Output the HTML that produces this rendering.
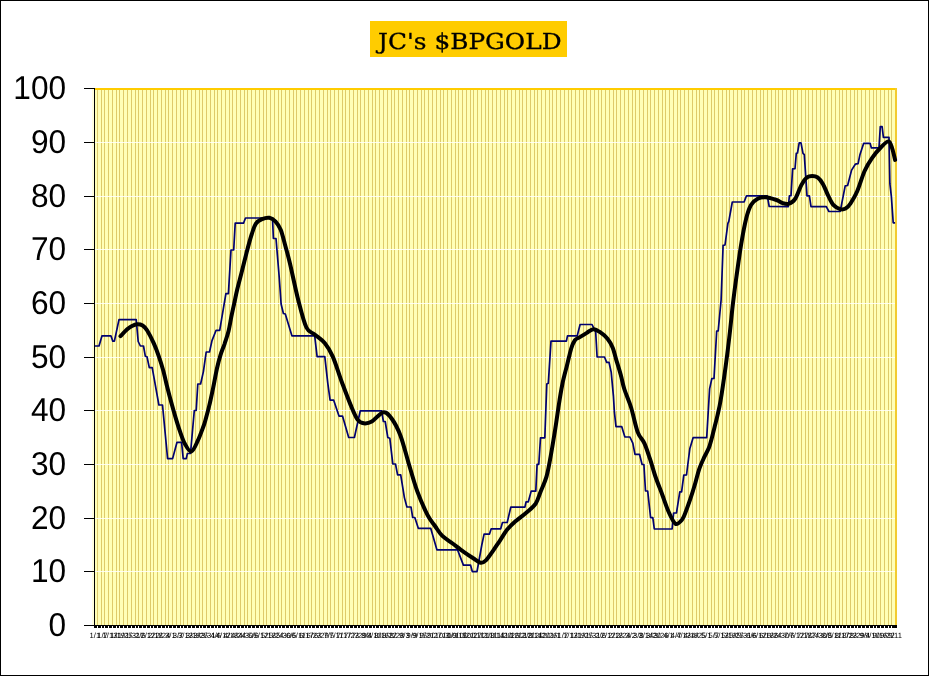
<!DOCTYPE html>
<html lang="en"><head><meta charset="utf-8"><title>JC's $BPGOLD</title>
<style>
html,body{margin:0;padding:0;background:#fff;}
body{width:929px;height:676px;overflow:hidden;}
svg{display:block;}
text{text-rendering:geometricPrecision;}
.gt{filter:grayscale(1);}
.yl{font-family:"Liberation Sans",Arial,sans-serif;font-size:33px;fill:#000;text-anchor:end;}
.xl{font-family:"Liberation Sans",Arial,sans-serif;font-size:7.6px;fill:#000;text-anchor:middle;}
.tt{font-family:"DejaVu Serif","Liberation Serif",serif;font-size:22px;fill:#000;text-anchor:middle;}
</style></head><body>
<svg width="929" height="676" viewBox="0 0 929 676">
<rect x="0" y="0" width="929" height="676" fill="#fff"/>
<rect x="0.5" y="0.5" width="928" height="675" fill="none" stroke="#000" stroke-width="1"/>
<rect x="370" y="21" width="197" height="36" fill="#FFCC00"/>
<rect x="92" y="88" width="2" height="538" fill="#FFFFE0"/>
<rect x="94" y="88" width="803" height="538" fill="#FFFFB6"/>
<g fill="#DECA6A" shape-rendering="crispEdges"><rect x="97" y="90" width="1" height="536"/><rect x="101" y="90" width="1" height="536"/><rect x="104" y="90" width="1" height="536"/><rect x="108" y="90" width="1" height="536"/><rect x="112" y="90" width="1" height="536"/><rect x="116" y="90" width="1" height="536"/><rect x="119" y="90" width="1" height="536"/><rect x="123" y="90" width="1" height="536"/><rect x="127" y="90" width="1" height="536"/><rect x="131" y="90" width="1" height="536"/><rect x="135" y="90" width="1" height="536"/><rect x="138" y="90" width="1" height="536"/><rect x="142" y="90" width="1" height="536"/><rect x="146" y="90" width="1" height="536"/><rect x="150" y="90" width="1" height="536"/><rect x="153" y="90" width="1" height="536"/><rect x="157" y="90" width="1" height="536"/><rect x="161" y="90" width="1" height="536"/><rect x="165" y="90" width="1" height="536"/><rect x="168" y="90" width="1" height="536"/><rect x="172" y="90" width="1" height="536"/><rect x="176" y="90" width="1" height="536"/><rect x="180" y="90" width="1" height="536"/><rect x="183" y="90" width="1" height="536"/><rect x="187" y="90" width="1" height="536"/><rect x="191" y="90" width="1" height="536"/><rect x="195" y="90" width="1" height="536"/><rect x="199" y="90" width="1" height="536"/><rect x="202" y="90" width="1" height="536"/><rect x="206" y="90" width="1" height="536"/><rect x="210" y="90" width="1" height="536"/><rect x="214" y="90" width="1" height="536"/><rect x="217" y="90" width="1" height="536"/><rect x="221" y="90" width="1" height="536"/><rect x="225" y="90" width="1" height="536"/><rect x="229" y="90" width="1" height="536"/><rect x="232" y="90" width="1" height="536"/><rect x="236" y="90" width="1" height="536"/><rect x="240" y="90" width="1" height="536"/><rect x="244" y="90" width="1" height="536"/><rect x="247" y="90" width="1" height="536"/><rect x="251" y="90" width="1" height="536"/><rect x="255" y="90" width="1" height="536"/><rect x="259" y="90" width="1" height="536"/><rect x="263" y="90" width="1" height="536"/><rect x="266" y="90" width="1" height="536"/><rect x="270" y="90" width="1" height="536"/><rect x="274" y="90" width="1" height="536"/><rect x="278" y="90" width="1" height="536"/><rect x="281" y="90" width="1" height="536"/><rect x="285" y="90" width="1" height="536"/><rect x="289" y="90" width="1" height="536"/><rect x="293" y="90" width="1" height="536"/><rect x="296" y="90" width="1" height="536"/><rect x="300" y="90" width="1" height="536"/><rect x="304" y="90" width="1" height="536"/><rect x="308" y="90" width="1" height="536"/><rect x="311" y="90" width="1" height="536"/><rect x="315" y="90" width="1" height="536"/><rect x="319" y="90" width="1" height="536"/><rect x="323" y="90" width="1" height="536"/><rect x="327" y="90" width="1" height="536"/><rect x="330" y="90" width="1" height="536"/><rect x="334" y="90" width="1" height="536"/><rect x="338" y="90" width="1" height="536"/><rect x="342" y="90" width="1" height="536"/><rect x="345" y="90" width="1" height="536"/><rect x="349" y="90" width="1" height="536"/><rect x="353" y="90" width="1" height="536"/><rect x="357" y="90" width="1" height="536"/><rect x="360" y="90" width="1" height="536"/><rect x="364" y="90" width="1" height="536"/><rect x="368" y="90" width="1" height="536"/><rect x="372" y="90" width="1" height="536"/><rect x="375" y="90" width="1" height="536"/><rect x="379" y="90" width="1" height="536"/><rect x="383" y="90" width="1" height="536"/><rect x="387" y="90" width="1" height="536"/><rect x="391" y="90" width="1" height="536"/><rect x="394" y="90" width="1" height="536"/><rect x="398" y="90" width="1" height="536"/><rect x="402" y="90" width="1" height="536"/><rect x="406" y="90" width="1" height="536"/><rect x="409" y="90" width="1" height="536"/><rect x="413" y="90" width="1" height="536"/><rect x="417" y="90" width="1" height="536"/><rect x="421" y="90" width="1" height="536"/><rect x="424" y="90" width="1" height="536"/><rect x="428" y="90" width="1" height="536"/><rect x="432" y="90" width="1" height="536"/><rect x="436" y="90" width="1" height="536"/><rect x="440" y="90" width="1" height="536"/><rect x="443" y="90" width="1" height="536"/><rect x="447" y="90" width="1" height="536"/><rect x="451" y="90" width="1" height="536"/><rect x="455" y="90" width="1" height="536"/><rect x="458" y="90" width="1" height="536"/><rect x="462" y="90" width="1" height="536"/><rect x="466" y="90" width="1" height="536"/><rect x="470" y="90" width="1" height="536"/><rect x="473" y="90" width="1" height="536"/><rect x="477" y="90" width="1" height="536"/><rect x="481" y="90" width="1" height="536"/><rect x="485" y="90" width="1" height="536"/><rect x="488" y="90" width="1" height="536"/><rect x="492" y="90" width="1" height="536"/><rect x="496" y="90" width="1" height="536"/><rect x="500" y="90" width="1" height="536"/><rect x="504" y="90" width="1" height="536"/><rect x="507" y="90" width="1" height="536"/><rect x="511" y="90" width="1" height="536"/><rect x="515" y="90" width="1" height="536"/><rect x="519" y="90" width="1" height="536"/><rect x="522" y="90" width="1" height="536"/><rect x="526" y="90" width="1" height="536"/><rect x="530" y="90" width="1" height="536"/><rect x="534" y="90" width="1" height="536"/><rect x="537" y="90" width="1" height="536"/><rect x="541" y="90" width="1" height="536"/><rect x="545" y="90" width="1" height="536"/><rect x="549" y="90" width="1" height="536"/><rect x="552" y="90" width="1" height="536"/><rect x="556" y="90" width="1" height="536"/><rect x="560" y="90" width="1" height="536"/><rect x="564" y="90" width="1" height="536"/><rect x="568" y="90" width="1" height="536"/><rect x="571" y="90" width="1" height="536"/><rect x="575" y="90" width="1" height="536"/><rect x="579" y="90" width="1" height="536"/><rect x="583" y="90" width="1" height="536"/><rect x="586" y="90" width="1" height="536"/><rect x="590" y="90" width="1" height="536"/><rect x="594" y="90" width="1" height="536"/><rect x="598" y="90" width="1" height="536"/><rect x="601" y="90" width="1" height="536"/><rect x="605" y="90" width="1" height="536"/><rect x="609" y="90" width="1" height="536"/><rect x="613" y="90" width="1" height="536"/><rect x="616" y="90" width="1" height="536"/><rect x="620" y="90" width="1" height="536"/><rect x="624" y="90" width="1" height="536"/><rect x="628" y="90" width="1" height="536"/><rect x="632" y="90" width="1" height="536"/><rect x="635" y="90" width="1" height="536"/><rect x="639" y="90" width="1" height="536"/><rect x="643" y="90" width="1" height="536"/><rect x="647" y="90" width="1" height="536"/><rect x="650" y="90" width="1" height="536"/><rect x="654" y="90" width="1" height="536"/><rect x="658" y="90" width="1" height="536"/><rect x="662" y="90" width="1" height="536"/><rect x="665" y="90" width="1" height="536"/><rect x="669" y="90" width="1" height="536"/><rect x="673" y="90" width="1" height="536"/><rect x="677" y="90" width="1" height="536"/><rect x="680" y="90" width="1" height="536"/><rect x="684" y="90" width="1" height="536"/><rect x="688" y="90" width="1" height="536"/><rect x="692" y="90" width="1" height="536"/><rect x="696" y="90" width="1" height="536"/><rect x="699" y="90" width="1" height="536"/><rect x="703" y="90" width="1" height="536"/><rect x="707" y="90" width="1" height="536"/><rect x="711" y="90" width="1" height="536"/><rect x="714" y="90" width="1" height="536"/><rect x="718" y="90" width="1" height="536"/><rect x="722" y="90" width="1" height="536"/><rect x="726" y="90" width="1" height="536"/><rect x="729" y="90" width="1" height="536"/><rect x="733" y="90" width="1" height="536"/><rect x="737" y="90" width="1" height="536"/><rect x="741" y="90" width="1" height="536"/><rect x="744" y="90" width="1" height="536"/><rect x="748" y="90" width="1" height="536"/><rect x="752" y="90" width="1" height="536"/><rect x="756" y="90" width="1" height="536"/><rect x="760" y="90" width="1" height="536"/><rect x="763" y="90" width="1" height="536"/><rect x="767" y="90" width="1" height="536"/><rect x="771" y="90" width="1" height="536"/><rect x="775" y="90" width="1" height="536"/><rect x="778" y="90" width="1" height="536"/><rect x="782" y="90" width="1" height="536"/><rect x="786" y="90" width="1" height="536"/><rect x="790" y="90" width="1" height="536"/><rect x="793" y="90" width="1" height="536"/><rect x="797" y="90" width="1" height="536"/><rect x="801" y="90" width="1" height="536"/><rect x="805" y="90" width="1" height="536"/><rect x="808" y="90" width="1" height="536"/><rect x="812" y="90" width="1" height="536"/><rect x="816" y="90" width="1" height="536"/><rect x="820" y="90" width="1" height="536"/><rect x="824" y="90" width="1" height="536"/><rect x="827" y="90" width="1" height="536"/><rect x="831" y="90" width="1" height="536"/><rect x="835" y="90" width="1" height="536"/><rect x="839" y="90" width="1" height="536"/><rect x="842" y="90" width="1" height="536"/><rect x="846" y="90" width="1" height="536"/><rect x="850" y="90" width="1" height="536"/><rect x="854" y="90" width="1" height="536"/><rect x="857" y="90" width="1" height="536"/><rect x="861" y="90" width="1" height="536"/><rect x="865" y="90" width="1" height="536"/><rect x="869" y="90" width="1" height="536"/><rect x="873" y="90" width="1" height="536"/><rect x="876" y="90" width="1" height="536"/><rect x="880" y="90" width="1" height="536"/><rect x="884" y="90" width="1" height="536"/><rect x="888" y="90" width="1" height="536"/><rect x="891" y="90" width="1" height="536"/></g>
<g fill="#fff" fill-opacity="0.85" shape-rendering="crispEdges"><rect x="95" y="571" width="801" height="1"/><rect x="95" y="518" width="801" height="1"/><rect x="95" y="464" width="801" height="1"/><rect x="95" y="410" width="801" height="1"/><rect x="95" y="357" width="801" height="1"/><rect x="95" y="303" width="801" height="1"/><rect x="95" y="249" width="801" height="1"/><rect x="95" y="196" width="801" height="1"/><rect x="95" y="142" width="801" height="1"/></g>
<g fill="#FFCC00" shape-rendering="crispEdges"><rect x="95" y="88" width="802" height="2"/></g><rect x="895" y="88" width="2" height="538" fill="#F2CB30" shape-rendering="crispEdges"/>
<polyline points="94.5,346.0 99.0,346.0 102.0,335.8 110.9,335.8 112.8,341.1 114.4,341.1 119.0,319.6 136.2,319.6 138.2,341.5 140.4,346.0 143.5,346.0 145.3,356.2 147.0,356.8 149.3,367.6 152.2,367.6 158.9,405.0 162.5,405.0 167.6,458.6 172.6,458.6 177.0,442.3 181.6,442.3 183.2,458.6 186.3,458.6 187.4,453.5 190.5,453.5 194.3,410.5 196.2,410.5 197.8,384.0 200.6,384.0 203.4,371.6 206.2,352.0 209.5,352.0 212.0,340.6 216.1,330.3 219.7,330.3 225.9,293.6 228.4,293.6 231.0,250.0 233.7,250.0 235.2,223.2 243.5,223.2 245.5,218.0 272.5,218.0 273.4,238.5 276.0,238.5 279.2,277.0 281.1,304.0 283.4,313.5 285.3,314.0 290.3,330.6 291.9,335.8 314.7,335.8 317.1,356.6 324.8,356.6 327.8,383.3 330.1,400.2 333.7,400.2 337.2,410.8 339.0,416.1 342.5,416.1 348.7,437.5 354.4,437.5 360.3,410.8 381.6,410.8 383.4,421.5 385.2,421.5 387.8,437.5 389.8,438.2 392.8,463.8 395.5,464.0 397.6,474.9 400.7,474.9 404.4,497.6 406.9,507.0 411.0,507.0 412.7,517.5 414.8,517.5 418.3,528.3 430.7,528.3 436.9,549.8 457.5,549.8 463.4,565.1 470.5,565.1 472.3,571.6 477.0,571.6 481.8,545.0 484.1,534.1 489.5,534.1 491.2,528.8 500.7,528.8 502.5,522.5 507.2,522.5 510.8,507.1 524.9,507.1 526.1,501.8 528.3,501.8 531.2,491.1 535.8,491.1 537.1,464.3 538.8,464.3 540.5,437.8 544.8,437.8 546.8,384.0 548.3,383.2 551.0,341.1 566.4,341.1 567.5,335.9 577.2,335.9 580.1,324.5 592.0,324.5 595.7,332.2 597.1,357.0 604.5,357.0 606.7,362.3 609.0,362.3 611.2,372.1 613.4,395.8 614.4,412.2 616.0,426.6 621.7,426.6 624.8,436.8 629.9,437.0 632.8,443.2 635.0,454.3 639.5,454.3 642.1,464.5 643.9,464.5 645.5,491.0 647.7,491.0 650.6,517.7 652.8,517.7 654.3,529.0 672.1,529.0 673.6,513.0 676.5,512.8 679.8,491.8 681.6,491.8 683.8,475.2 686.5,475.0 689.8,448.8 693.1,437.7 706.7,437.7 709.6,388.9 711.8,378.7 714.0,378.5 716.7,331.0 718.2,330.8 721.1,300.0 723.1,245.4 725.0,245.0 727.9,223.3 728.8,221.3 732.3,202.0 744.2,201.8 746.5,195.8 767.3,195.8 769.2,206.5 788.3,206.6 789.4,195.9 791.0,195.7 792.6,168.9 795.0,168.7 796.3,153.3 797.5,153.0 799.2,142.9 801.0,142.9 803.0,153.3 804.3,154.6 807.0,195.9 809.4,195.9 811.0,206.6 826.3,206.6 828.9,211.5 840.2,211.4 845.2,185.8 847.6,185.5 851.6,170.1 855.3,164.2 858.1,163.7 860.0,154.4 863.7,143.3 870.1,143.3 871.4,147.9 879.0,147.9 880.3,126.6 882.1,126.6 883.4,137.4 889.0,137.4 889.9,183.9 891.4,196.9 893.2,222.8 895.1,222.8" fill="none" stroke="#000070" stroke-width="1.7" stroke-linejoin="round"/>
<path d="M120.5,336.2C121.7,335.0 125.6,330.8 127.5,329.1C129.4,327.4 130.4,326.8 132.0,326.0C133.6,325.2 135.5,324.4 137.3,324.3C139.1,324.2 140.9,324.5 142.6,325.5C144.2,326.5 145.4,327.6 147.2,330.5C149.0,333.4 151.6,338.5 153.6,342.9C155.6,347.3 157.4,352.1 159.0,356.8C160.6,361.5 162.0,366.0 163.3,370.8C164.6,375.6 165.7,380.8 166.9,385.8C168.2,390.8 169.4,395.6 170.8,400.6C172.2,405.6 173.6,410.8 175.1,415.9C176.6,420.9 178.2,426.3 179.8,430.9C181.4,435.5 182.8,440.1 184.7,443.5C186.6,446.9 189.1,452.0 191.3,451.5C193.5,451.0 195.8,444.9 197.8,440.7C199.8,436.5 202.1,430.0 203.4,426.5C204.7,423.0 204.6,423.0 205.6,419.5C206.6,416.0 208.1,410.6 209.3,405.4C210.6,400.2 211.8,394.2 213.1,388.1C214.4,382.0 215.7,374.2 216.9,368.8C218.1,363.4 219.1,359.6 220.4,355.4C221.7,351.2 223.2,347.8 224.6,343.8C225.9,339.8 227.4,335.8 228.5,331.3C229.6,326.8 230.4,321.5 231.3,316.9C232.2,312.3 233.2,308.0 234.2,303.5C235.2,299.0 235.9,295.0 237.1,290.0C238.3,285.0 239.8,279.5 241.4,273.3C243.0,267.1 244.9,259.1 246.6,252.6C248.3,246.0 250.2,238.8 251.8,234.0C253.4,229.2 254.2,226.1 255.9,223.6C257.6,221.1 259.9,220.1 262.1,219.1C264.4,218.1 267.1,217.4 269.4,217.8C271.6,218.2 273.7,219.6 275.6,221.6C277.5,223.6 279.1,226.0 280.7,229.8C282.2,233.6 283.4,238.7 284.9,244.3C286.4,249.9 287.7,254.0 289.9,263.2C292.1,272.4 295.4,288.8 298.1,299.5C300.9,310.2 303.6,321.7 306.4,327.5C309.2,333.3 311.6,331.9 314.7,334.5C317.8,337.1 321.9,339.5 324.9,343.2C327.9,346.9 330.0,350.2 332.8,356.6C335.6,363.0 338.7,373.5 341.6,381.5C344.6,389.5 347.8,398.2 350.5,404.6C353.2,411.0 355.4,416.6 357.6,419.7C359.8,422.8 361.4,423.0 363.8,423.3C366.2,423.6 368.5,423.4 371.8,421.5C375.1,419.6 380.1,412.7 383.4,412.2C386.7,411.7 388.8,414.6 391.6,418.5C394.5,422.4 397.6,428.0 400.5,435.7C403.4,443.4 406.2,455.2 409.0,464.5C411.8,473.8 414.2,482.9 417.3,491.4C420.4,499.8 424.7,509.4 427.6,515.2C430.6,521.0 432.6,522.6 435.0,526.0C437.4,529.4 439.2,532.8 442.1,535.7C445.0,538.6 449.0,540.8 452.6,543.5C456.2,546.2 460.3,549.4 463.7,551.8C467.1,554.2 470.1,556.2 472.9,558.0C475.7,559.8 478.4,562.4 480.6,562.8C482.8,563.2 483.8,562.4 485.9,560.4C488.0,558.4 490.6,554.2 493.0,550.9C495.4,547.5 497.7,543.8 500.1,540.3C502.5,536.8 504.6,532.8 507.2,529.6C509.8,526.4 512.1,524.3 515.5,521.3C518.9,518.3 524.0,514.8 527.4,511.8C530.8,508.9 533.5,506.9 535.7,503.6C537.9,500.3 538.7,496.4 540.5,491.9C542.3,487.4 544.8,482.6 546.5,476.6C548.2,470.7 549.3,463.9 550.7,456.2C552.1,448.5 553.6,439.1 555.0,430.6C556.4,422.1 557.6,412.8 558.8,405.0C560.0,397.2 561.1,390.5 562.4,384.0C563.7,377.5 565.3,372.1 566.8,366.2C568.3,360.3 569.9,352.8 571.2,348.5C572.6,344.2 573.5,342.2 574.9,340.3C576.3,338.4 577.4,338.6 579.4,337.4C581.4,336.2 584.5,334.3 586.8,332.9C589.1,331.5 591.2,329.3 593.4,329.2C595.6,329.1 597.8,330.6 600.1,332.2C602.5,333.8 605.4,336.2 607.5,338.8C609.6,341.4 611.2,344.1 612.7,347.7C614.2,351.3 615.0,355.7 616.4,360.3C617.8,364.9 619.5,370.3 620.8,375.1C622.1,379.9 622.6,383.6 624.3,389.0C626.0,394.4 628.9,400.3 631.1,407.5C633.3,414.7 635.5,426.2 637.7,432.1C639.9,438.1 642.3,438.8 644.3,443.2C646.3,447.6 648.0,453.1 649.9,458.7C651.8,464.2 653.4,470.6 655.4,476.5C657.4,482.4 659.9,488.3 662.1,494.2C664.3,500.1 666.5,507.1 668.7,512.0C670.9,516.9 673.2,522.4 675.4,523.7C677.6,525.0 680.2,521.8 682.0,519.7C683.8,517.6 684.6,514.6 686.0,511.0C687.4,507.4 689.0,502.8 690.6,498.1C692.2,493.4 694.0,487.5 695.4,482.7C696.8,477.9 697.8,473.4 699.2,469.2C700.6,465.0 702.4,461.2 704.0,457.7C705.6,454.2 707.5,451.3 708.8,448.1C710.1,444.9 710.7,442.0 711.7,438.5C712.7,435.0 713.6,430.8 714.6,426.9C715.6,423.0 716.5,419.8 717.5,415.4C718.5,411.0 719.2,408.6 720.6,400.5C722.0,392.4 724.0,378.3 725.6,366.7C727.2,355.1 728.8,341.7 730.0,331.1C731.2,320.5 731.9,312.1 733.0,303.0C734.1,293.9 735.1,286.1 736.5,276.2C737.9,266.3 739.7,253.1 741.3,243.5C742.9,233.9 744.6,224.9 746.2,218.5C747.8,212.1 749.1,208.3 751.0,205.0C752.9,201.7 755.3,200.1 757.7,198.8C760.1,197.5 762.3,197.1 765.4,197.3C768.5,197.5 773.7,199.1 776.5,200.0C779.3,200.9 780.0,202.2 782.0,202.8C784.0,203.5 786.1,204.5 788.3,203.9C790.5,203.3 792.8,202.4 795.0,199.2C797.2,196.0 799.6,188.2 801.6,184.6C803.6,180.9 805.2,178.8 807.0,177.3C808.8,175.9 810.5,175.9 812.3,175.9C814.1,175.9 815.8,176.0 817.6,177.3C819.4,178.6 821.1,180.8 822.9,183.9C824.7,187.0 826.5,192.4 828.3,195.9C830.1,199.4 831.6,203.0 833.6,205.2C835.6,207.4 838.2,208.6 840.2,209.2C842.2,209.8 843.9,209.5 845.6,208.6C847.3,207.7 848.6,206.4 850.5,203.5C852.4,200.6 854.9,196.7 857.2,191.3C859.6,185.9 862.1,176.5 864.6,171.0C867.1,165.5 869.2,162.1 872.0,158.1C874.8,154.1 878.4,149.8 881.2,147.0C884.0,144.2 886.8,141.1 888.6,141.4C890.5,141.7 891.2,145.7 892.3,148.8C893.4,151.9 894.6,158.1 895.1,159.9" fill="none" stroke="#000" stroke-width="4" stroke-linecap="round" stroke-linejoin="round"/>
<g fill="#000" shape-rendering="crispEdges"><rect x="94" y="88" width="1" height="538"/><rect x="94" y="625" width="803" height="1"/><rect x="84" y="625" width="10" height="1"/><rect x="84" y="571" width="10" height="1"/><rect x="84" y="518" width="10" height="1"/><rect x="84" y="464" width="10" height="1"/><rect x="84" y="410" width="10" height="1"/><rect x="84" y="357" width="10" height="1"/><rect x="84" y="303" width="10" height="1"/><rect x="84" y="249" width="10" height="1"/><rect x="84" y="196" width="10" height="1"/><rect x="84" y="142" width="10" height="1"/><rect x="84" y="88" width="10" height="1"/></g>
<g fill="#000" shape-rendering="crispEdges"><rect x="94" y="626" width="3" height="2"/><rect x="98" y="626" width="3" height="2"/><rect x="102" y="626" width="2" height="2"/><rect x="105" y="626" width="3" height="2"/><rect x="109" y="626" width="3" height="2"/><rect x="113" y="626" width="3" height="2"/><rect x="117" y="626" width="2" height="2"/><rect x="120" y="626" width="3" height="2"/><rect x="124" y="626" width="3" height="2"/><rect x="128" y="626" width="3" height="2"/><rect x="132" y="626" width="3" height="2"/><rect x="136" y="626" width="2" height="2"/><rect x="139" y="626" width="3" height="2"/><rect x="143" y="626" width="3" height="2"/><rect x="147" y="626" width="3" height="2"/><rect x="151" y="626" width="2" height="2"/><rect x="154" y="626" width="3" height="2"/><rect x="158" y="626" width="3" height="2"/><rect x="162" y="626" width="3" height="2"/><rect x="166" y="626" width="2" height="2"/><rect x="169" y="626" width="3" height="2"/><rect x="173" y="626" width="3" height="2"/><rect x="177" y="626" width="3" height="2"/><rect x="181" y="626" width="2" height="2"/><rect x="184" y="626" width="3" height="2"/><rect x="188" y="626" width="3" height="2"/><rect x="192" y="626" width="3" height="2"/><rect x="196" y="626" width="3" height="2"/><rect x="200" y="626" width="2" height="2"/><rect x="203" y="626" width="3" height="2"/><rect x="207" y="626" width="3" height="2"/><rect x="211" y="626" width="3" height="2"/><rect x="215" y="626" width="2" height="2"/><rect x="218" y="626" width="3" height="2"/><rect x="222" y="626" width="3" height="2"/><rect x="226" y="626" width="3" height="2"/><rect x="230" y="626" width="2" height="2"/><rect x="233" y="626" width="3" height="2"/><rect x="237" y="626" width="3" height="2"/><rect x="241" y="626" width="3" height="2"/><rect x="245" y="626" width="2" height="2"/><rect x="248" y="626" width="3" height="2"/><rect x="252" y="626" width="3" height="2"/><rect x="256" y="626" width="3" height="2"/><rect x="260" y="626" width="3" height="2"/><rect x="264" y="626" width="2" height="2"/><rect x="267" y="626" width="3" height="2"/><rect x="271" y="626" width="3" height="2"/><rect x="275" y="626" width="3" height="2"/><rect x="279" y="626" width="2" height="2"/><rect x="282" y="626" width="3" height="2"/><rect x="286" y="626" width="3" height="2"/><rect x="290" y="626" width="3" height="2"/><rect x="294" y="626" width="2" height="2"/><rect x="297" y="626" width="3" height="2"/><rect x="301" y="626" width="3" height="2"/><rect x="305" y="626" width="3" height="2"/><rect x="309" y="626" width="2" height="2"/><rect x="312" y="626" width="3" height="2"/><rect x="316" y="626" width="3" height="2"/><rect x="320" y="626" width="3" height="2"/><rect x="324" y="626" width="3" height="2"/><rect x="328" y="626" width="2" height="2"/><rect x="331" y="626" width="3" height="2"/><rect x="335" y="626" width="3" height="2"/><rect x="339" y="626" width="3" height="2"/><rect x="343" y="626" width="2" height="2"/><rect x="346" y="626" width="3" height="2"/><rect x="350" y="626" width="3" height="2"/><rect x="354" y="626" width="3" height="2"/><rect x="358" y="626" width="2" height="2"/><rect x="361" y="626" width="3" height="2"/><rect x="365" y="626" width="3" height="2"/><rect x="369" y="626" width="3" height="2"/><rect x="373" y="626" width="2" height="2"/><rect x="376" y="626" width="3" height="2"/><rect x="380" y="626" width="3" height="2"/><rect x="384" y="626" width="3" height="2"/><rect x="388" y="626" width="3" height="2"/><rect x="392" y="626" width="2" height="2"/><rect x="395" y="626" width="3" height="2"/><rect x="399" y="626" width="3" height="2"/><rect x="403" y="626" width="3" height="2"/><rect x="407" y="626" width="2" height="2"/><rect x="410" y="626" width="3" height="2"/><rect x="414" y="626" width="3" height="2"/><rect x="418" y="626" width="3" height="2"/><rect x="422" y="626" width="2" height="2"/><rect x="425" y="626" width="3" height="2"/><rect x="429" y="626" width="3" height="2"/><rect x="433" y="626" width="3" height="2"/><rect x="437" y="626" width="3" height="2"/><rect x="441" y="626" width="2" height="2"/><rect x="444" y="626" width="3" height="2"/><rect x="448" y="626" width="3" height="2"/><rect x="452" y="626" width="3" height="2"/><rect x="456" y="626" width="2" height="2"/><rect x="459" y="626" width="3" height="2"/><rect x="463" y="626" width="3" height="2"/><rect x="467" y="626" width="3" height="2"/><rect x="471" y="626" width="2" height="2"/><rect x="474" y="626" width="3" height="2"/><rect x="478" y="626" width="3" height="2"/><rect x="482" y="626" width="3" height="2"/><rect x="486" y="626" width="2" height="2"/><rect x="489" y="626" width="3" height="2"/><rect x="493" y="626" width="3" height="2"/><rect x="497" y="626" width="3" height="2"/><rect x="501" y="626" width="3" height="2"/><rect x="505" y="626" width="2" height="2"/><rect x="508" y="626" width="3" height="2"/><rect x="512" y="626" width="3" height="2"/><rect x="516" y="626" width="3" height="2"/><rect x="520" y="626" width="2" height="2"/><rect x="523" y="626" width="3" height="2"/><rect x="527" y="626" width="3" height="2"/><rect x="531" y="626" width="3" height="2"/><rect x="535" y="626" width="2" height="2"/><rect x="538" y="626" width="3" height="2"/><rect x="542" y="626" width="3" height="2"/><rect x="546" y="626" width="3" height="2"/><rect x="550" y="626" width="2" height="2"/><rect x="553" y="626" width="3" height="2"/><rect x="557" y="626" width="3" height="2"/><rect x="561" y="626" width="3" height="2"/><rect x="565" y="626" width="3" height="2"/><rect x="569" y="626" width="2" height="2"/><rect x="572" y="626" width="3" height="2"/><rect x="576" y="626" width="3" height="2"/><rect x="580" y="626" width="3" height="2"/><rect x="584" y="626" width="2" height="2"/><rect x="587" y="626" width="3" height="2"/><rect x="591" y="626" width="3" height="2"/><rect x="595" y="626" width="3" height="2"/><rect x="599" y="626" width="2" height="2"/><rect x="602" y="626" width="3" height="2"/><rect x="606" y="626" width="3" height="2"/><rect x="610" y="626" width="3" height="2"/><rect x="614" y="626" width="2" height="2"/><rect x="617" y="626" width="3" height="2"/><rect x="621" y="626" width="3" height="2"/><rect x="625" y="626" width="3" height="2"/><rect x="629" y="626" width="3" height="2"/><rect x="633" y="626" width="2" height="2"/><rect x="636" y="626" width="3" height="2"/><rect x="640" y="626" width="3" height="2"/><rect x="644" y="626" width="3" height="2"/><rect x="648" y="626" width="2" height="2"/><rect x="651" y="626" width="3" height="2"/><rect x="655" y="626" width="3" height="2"/><rect x="659" y="626" width="3" height="2"/><rect x="663" y="626" width="2" height="2"/><rect x="666" y="626" width="3" height="2"/><rect x="670" y="626" width="3" height="2"/><rect x="674" y="626" width="3" height="2"/><rect x="678" y="626" width="2" height="2"/><rect x="681" y="626" width="3" height="2"/><rect x="685" y="626" width="3" height="2"/><rect x="689" y="626" width="3" height="2"/><rect x="693" y="626" width="3" height="2"/><rect x="697" y="626" width="2" height="2"/><rect x="700" y="626" width="3" height="2"/><rect x="704" y="626" width="3" height="2"/><rect x="708" y="626" width="3" height="2"/><rect x="712" y="626" width="2" height="2"/><rect x="715" y="626" width="3" height="2"/><rect x="719" y="626" width="3" height="2"/><rect x="723" y="626" width="3" height="2"/><rect x="727" y="626" width="2" height="2"/><rect x="730" y="626" width="3" height="2"/><rect x="734" y="626" width="3" height="2"/><rect x="738" y="626" width="3" height="2"/><rect x="742" y="626" width="2" height="2"/><rect x="745" y="626" width="3" height="2"/><rect x="749" y="626" width="3" height="2"/><rect x="753" y="626" width="3" height="2"/><rect x="757" y="626" width="3" height="2"/><rect x="761" y="626" width="2" height="2"/><rect x="764" y="626" width="3" height="2"/><rect x="768" y="626" width="3" height="2"/><rect x="772" y="626" width="3" height="2"/><rect x="776" y="626" width="2" height="2"/><rect x="779" y="626" width="3" height="2"/><rect x="783" y="626" width="3" height="2"/><rect x="787" y="626" width="3" height="2"/><rect x="791" y="626" width="2" height="2"/><rect x="794" y="626" width="3" height="2"/><rect x="798" y="626" width="3" height="2"/><rect x="802" y="626" width="3" height="2"/><rect x="806" y="626" width="2" height="2"/><rect x="809" y="626" width="3" height="2"/><rect x="813" y="626" width="3" height="2"/><rect x="817" y="626" width="3" height="2"/><rect x="821" y="626" width="3" height="2"/><rect x="825" y="626" width="2" height="2"/><rect x="828" y="626" width="3" height="2"/><rect x="832" y="626" width="3" height="2"/><rect x="836" y="626" width="3" height="2"/><rect x="840" y="626" width="2" height="2"/><rect x="843" y="626" width="3" height="2"/><rect x="847" y="626" width="3" height="2"/><rect x="851" y="626" width="3" height="2"/><rect x="855" y="626" width="2" height="2"/><rect x="858" y="626" width="3" height="2"/><rect x="862" y="626" width="3" height="2"/><rect x="866" y="626" width="3" height="2"/><rect x="870" y="626" width="3" height="2"/><rect x="874" y="626" width="2" height="2"/><rect x="877" y="626" width="3" height="2"/><rect x="881" y="626" width="3" height="2"/><rect x="885" y="626" width="3" height="2"/><rect x="889" y="626" width="2" height="2"/><rect x="892" y="626" width="5" height="2"/></g>
<g class="gt">
<text class="yl" transform="translate(66.1,635.7) scale(0.958,1)">0</text>
<text class="yl" transform="translate(66.1,581.7) scale(0.958,1)">10</text>
<text class="yl" transform="translate(66.1,528.7) scale(0.958,1)">20</text>
<text class="yl" transform="translate(66.1,474.7) scale(0.958,1)">30</text>
<text class="yl" transform="translate(66.1,420.7) scale(0.958,1)">40</text>
<text class="yl" transform="translate(66.1,367.7) scale(0.958,1)">50</text>
<text class="yl" transform="translate(66.1,313.7) scale(0.958,1)">60</text>
<text class="yl" transform="translate(66.1,259.7) scale(0.958,1)">70</text>
<text class="yl" transform="translate(66.1,206.7) scale(0.958,1)">80</text>
<text class="yl" transform="translate(66.1,152.7) scale(0.958,1)">90</text>
<text class="yl" transform="translate(66.1,98.7) scale(0.958,1)">100</text>
<g class="xl"><text x="94.9" y="637.8">1/1</text><text x="102.5" y="637.8">1/7</text><text x="110.0" y="637.8">1/13</text><text x="117.6" y="637.8">1/19</text><text x="125.1" y="637.8">1/25</text><text x="132.7" y="637.8">1/31</text><text x="140.2" y="637.8">2/6</text><text x="147.8" y="637.8">2/12</text><text x="155.3" y="637.8">2/18</text><text x="162.9" y="637.8">2/24</text><text x="170.4" y="637.8">3/1</text><text x="178.0" y="637.8">3/7</text><text x="185.5" y="637.8">3/13</text><text x="193.1" y="637.8">3/19</text><text x="200.6" y="637.8">3/25</text><text x="208.1" y="637.8">3/31</text><text x="215.7" y="637.8">4/6</text><text x="223.2" y="637.8">4/12</text><text x="230.8" y="637.8">4/18</text><text x="238.3" y="637.8">4/24</text><text x="245.9" y="637.8">4/30</text><text x="253.4" y="637.8">5/6</text><text x="261.0" y="637.8">5/12</text><text x="268.5" y="637.8">5/18</text><text x="276.1" y="637.8">5/24</text><text x="283.6" y="637.8">5/30</text><text x="291.2" y="637.8">6/5</text><text x="298.7" y="637.8">6/11</text><text x="306.3" y="637.8">6/17</text><text x="313.8" y="637.8">6/23</text><text x="321.4" y="637.8">6/29</text><text x="328.9" y="637.8">7/5</text><text x="336.4" y="637.8">7/11</text><text x="344.0" y="637.8">7/17</text><text x="351.5" y="637.8">7/23</text><text x="359.1" y="637.8">7/29</text><text x="366.6" y="637.8">8/4</text><text x="374.2" y="637.8">8/10</text><text x="381.7" y="637.8">8/16</text><text x="389.3" y="637.8">8/22</text><text x="396.8" y="637.8">8/28</text><text x="404.4" y="637.8">9/3</text><text x="411.9" y="637.8">9/9</text><text x="419.5" y="637.8">9/15</text><text x="427.0" y="637.8">9/21</text><text x="434.6" y="637.8">9/27</text><text x="442.1" y="637.8">10/3</text><text x="449.6" y="637.8">10/9</text><text x="457.2" y="637.8">10/15</text><text x="464.7" y="637.8">10/21</text><text x="472.3" y="637.8">10/27</text><text x="479.8" y="637.8">11/2</text><text x="487.4" y="637.8">11/8</text><text x="494.9" y="637.8">11/14</text><text x="502.5" y="637.8">11/20</text><text x="510.0" y="637.8">11/26</text><text x="517.6" y="637.8">12/2</text><text x="525.1" y="637.8">12/8</text><text x="532.7" y="637.8">12/14</text><text x="540.2" y="637.8">12/20</text><text x="547.8" y="637.8">12/26</text><text x="555.3" y="637.8">1/1</text><text x="562.9" y="637.8">1/7</text><text x="570.4" y="637.8">1/13</text><text x="577.9" y="637.8">1/19</text><text x="585.5" y="637.8">1/25</text><text x="593.0" y="637.8">1/31</text><text x="600.6" y="637.8">2/6</text><text x="608.1" y="637.8">2/12</text><text x="615.7" y="637.8">2/18</text><text x="623.2" y="637.8">2/24</text><text x="630.8" y="637.8">3/2</text><text x="638.3" y="637.8">3/8</text><text x="645.9" y="637.8">3/14</text><text x="653.4" y="637.8">3/20</text><text x="661.0" y="637.8">3/26</text><text x="668.5" y="637.8">4/1</text><text x="676.1" y="637.8">4/7</text><text x="683.6" y="637.8">4/13</text><text x="691.2" y="637.8">4/19</text><text x="698.7" y="637.8">4/25</text><text x="706.2" y="637.8">5/1</text><text x="713.8" y="637.8">5/7</text><text x="721.3" y="637.8">5/13</text><text x="728.9" y="637.8">5/19</text><text x="736.4" y="637.8">5/25</text><text x="744.0" y="637.8">5/31</text><text x="751.5" y="637.8">6/6</text><text x="759.1" y="637.8">6/12</text><text x="766.6" y="637.8">6/18</text><text x="774.2" y="637.8">6/24</text><text x="781.7" y="637.8">6/30</text><text x="789.3" y="637.8">7/6</text><text x="796.8" y="637.8">7/12</text><text x="804.4" y="637.8">7/18</text><text x="811.9" y="637.8">7/24</text><text x="819.5" y="637.8">7/30</text><text x="827.0" y="637.8">8/5</text><text x="834.5" y="637.8">8/11</text><text x="842.1" y="637.8">8/17</text><text x="849.6" y="637.8">8/23</text><text x="857.2" y="637.8">8/29</text><text x="864.7" y="637.8">9/4</text><text x="872.3" y="637.8">9/10</text><text x="879.8" y="637.8">9/16</text><text x="887.4" y="637.8">9/22</text><text x="894.9" y="637.8">9/11</text></g>
<text class="tt" x="469.8" y="49" textLength="183.5" stroke="#000" stroke-width="0.3" lengthAdjust="spacingAndGlyphs">JC's $BPGOLD</text>
</g>
</svg></body></html>
